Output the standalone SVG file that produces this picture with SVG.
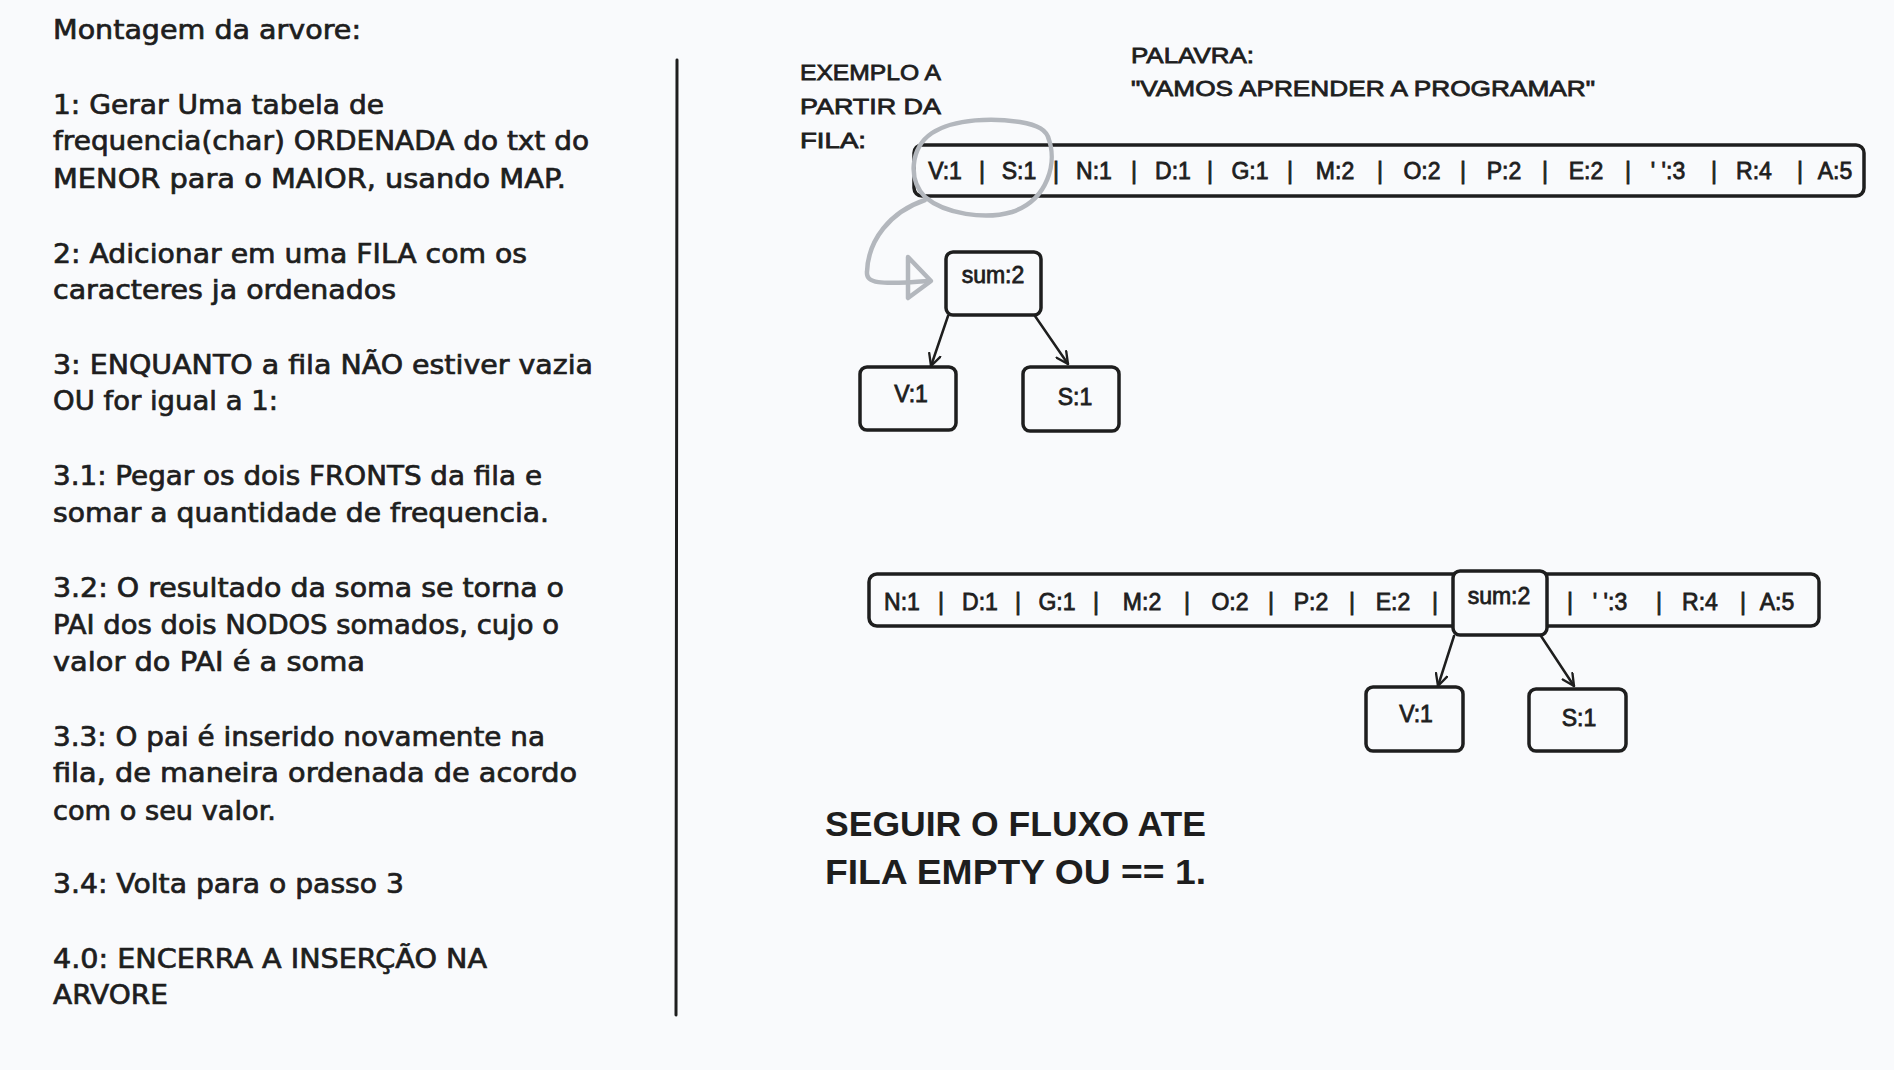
<svg xmlns="http://www.w3.org/2000/svg" width="1894" height="1070" viewBox="0 0 1894 1070">
<defs>
<style>
.bg{fill:#f9fafc}
.t{font-family:"DejaVu Sans","Liberation Sans",sans-serif;font-size:26px;fill:#1e1e1e;stroke:#1e1e1e;stroke-width:0.7}
.c{font-family:"Liberation Sans",Arial,sans-serif;font-size:22px;fill:#1e1e1e;stroke:#1e1e1e;stroke-width:0.8}
.q{font-family:"Liberation Sans",Arial,sans-serif;font-size:23px;fill:#1e1e1e;text-anchor:middle;stroke:#1e1e1e;stroke-width:0.8}
.big{font-family:"Liberation Sans",Arial,sans-serif;font-size:35px;font-weight:bold;fill:#1e1e1e}
.box{fill:none;stroke:#1e1e1e;stroke-width:3.5}
.edge{fill:none;stroke:#1e1e1e;stroke-width:2.5;stroke-linecap:round}
.hl{fill:none;stroke:#b3b7bd;stroke-width:4.5;stroke-linecap:round;stroke-linejoin:round}
</style>
<marker id="arr" viewBox="0 0 12 12" refX="11" refY="6" markerWidth="14" markerHeight="14" markerUnits="userSpaceOnUse" orient="auto">
<path d="M1,1 L11,6 L1,11" fill="none" stroke="#1e1e1e" stroke-width="2" stroke-linecap="round" stroke-linejoin="round"/>
</marker>
</defs>
<rect class="bg" x="0" y="0" width="1894" height="1070"/>

<g id="instructions">
<text class="t" x="53" y="39" textLength="308" lengthAdjust="spacingAndGlyphs">Montagem da arvore:</text>
<text class="t" x="53" y="114" textLength="331" lengthAdjust="spacingAndGlyphs">1: Gerar Uma tabela de</text>
<text class="t" x="53" y="150" textLength="536" lengthAdjust="spacingAndGlyphs">frequencia(char) ORDENADA do txt do</text>
<text class="t" x="53" y="188" textLength="513" lengthAdjust="spacingAndGlyphs">MENOR para o MAIOR, usando MAP.</text>
<text class="t" x="53" y="263" textLength="474" lengthAdjust="spacingAndGlyphs">2: Adicionar em uma FILA com os</text>
<text class="t" x="53" y="299" textLength="343" lengthAdjust="spacingAndGlyphs">caracteres ja ordenados</text>
<text class="t" x="53" y="374" textLength="540" lengthAdjust="spacingAndGlyphs">3: ENQUANTO a fila NÃO estiver vazia</text>
<text class="t" x="53" y="410" textLength="225" lengthAdjust="spacingAndGlyphs">OU for igual a 1:</text>
<text class="t" x="53" y="485" textLength="489" lengthAdjust="spacingAndGlyphs">3.1: Pegar os dois FRONTS da fila e</text>
<text class="t" x="53" y="522" textLength="496" lengthAdjust="spacingAndGlyphs">somar a quantidade de frequencia.</text>
<text class="t" x="53" y="597" textLength="511" lengthAdjust="spacingAndGlyphs">3.2: O resultado da soma se torna o</text>
<text class="t" x="53" y="634" textLength="506" lengthAdjust="spacingAndGlyphs">PAI dos dois NODOS somados, cujo o</text>
<text class="t" x="53" y="671" textLength="312" lengthAdjust="spacingAndGlyphs">valor do PAI é a soma</text>
<text class="t" x="53" y="746" textLength="492" lengthAdjust="spacingAndGlyphs">3.3: O pai é inserido novamente na</text>
<text class="t" x="53" y="782" textLength="524" lengthAdjust="spacingAndGlyphs">fila, de maneira ordenada de acordo</text>
<text class="t" x="53" y="820" textLength="223" lengthAdjust="spacingAndGlyphs">com o seu valor.</text>
<text class="t" x="53" y="893" textLength="351" lengthAdjust="spacingAndGlyphs">3.4: Volta para o passo 3</text>
<text class="t" x="53" y="968" textLength="434" lengthAdjust="spacingAndGlyphs">4.0: ENCERRA A INSERÇÃO NA</text>
<text class="t" x="53" y="1004" textLength="115" lengthAdjust="spacingAndGlyphs">ARVORE</text>
</g>

<g id="divider">
<line x1="677" y1="60" x2="676" y2="1015" stroke="#1e1e1e" stroke-width="3" stroke-linecap="round"/>
</g>

<g id="labels">
<text class="c" x="800" y="80" textLength="141" lengthAdjust="spacingAndGlyphs">EXEMPLO A</text>
<text class="c" x="800" y="114" textLength="141" lengthAdjust="spacingAndGlyphs">PARTIR DA</text>
<text class="c" x="800" y="148" textLength="66" lengthAdjust="spacingAndGlyphs">FILA:</text>
<text class="c" x="1131" y="63" textLength="123" lengthAdjust="spacingAndGlyphs">PALAVRA:</text>
<text class="c" x="1131" y="96" textLength="464" lengthAdjust="spacingAndGlyphs">"VAMOS APRENDER A PROGRAMAR"</text>
<text class="big" x="825" y="836" textLength="381" lengthAdjust="spacingAndGlyphs">SEGUIR O FLUXO ATE</text>
<text class="big" x="825" y="884" textLength="381" lengthAdjust="spacingAndGlyphs">FILA EMPTY OU == 1.</text>
</g>

<g id="fila1">
<rect class="box" x="914" y="145" width="950" height="51" rx="8"/>
<text class="q" x="945" y="179">V:1</text>
<text class="q" x="982" y="179">|</text>
<text class="q" x="1019" y="179">S:1</text>
<text class="q" x="1056" y="179">|</text>
<text class="q" x="1094" y="179">N:1</text>
<text class="q" x="1134" y="179">|</text>
<text class="q" x="1173" y="179">D:1</text>
<text class="q" x="1210" y="179">|</text>
<text class="q" x="1250" y="179">G:1</text>
<text class="q" x="1290" y="179">|</text>
<text class="q" x="1335" y="179">M:2</text>
<text class="q" x="1380" y="179">|</text>
<text class="q" x="1422" y="179">O:2</text>
<text class="q" x="1463" y="179">|</text>
<text class="q" x="1504" y="179">P:2</text>
<text class="q" x="1545" y="179">|</text>
<text class="q" x="1586" y="179">E:2</text>
<text class="q" x="1628" y="179">|</text>
<text class="q" x="1668" y="179">' ':3</text>
<text class="q" x="1714" y="179">|</text>
<text class="q" x="1754" y="179">R:4</text>
<text class="q" x="1800" y="179">|</text>
<text class="q" x="1835" y="179">A:5</text>
</g>

<g id="highlight">
<path class="hl" d="M1048,137 C1058,162 1048,200 1012,212 C985,220 945,214 925,197 C908,180 910,148 932,133 C955,118 995,118 1020,122 C1038,125 1047,130 1049,140"/>
<path class="hl" d="M925,200 C890,212 868,240 867,272 C866,283 878,285 928,281"/>
<path class="hl" d="M908,257 L931,281 L908,298 Z"/>
</g>

<g id="sum1">
<rect class="box" x="946" y="252" width="95" height="63" rx="7"/>
<text class="q" x="993" y="283">sum:2</text>
</g>
<g id="v1a">
<rect class="box" x="860" y="367" width="96" height="63" rx="7"/>
<text class="q" x="911" y="402">V:1</text>
</g>
<g id="s1a">
<rect class="box" x="1023" y="367" width="96" height="64" rx="7"/>
<text class="q" x="1075" y="405">S:1</text>
</g>

<g id="fila2">
<rect class="box" x="869" y="574" width="950" height="52" rx="8"/>
<text class="q" x="902" y="610">N:1</text>
<text class="q" x="941" y="610">|</text>
<text class="q" x="980" y="610">D:1</text>
<text class="q" x="1018" y="610">|</text>
<text class="q" x="1057" y="610">G:1</text>
<text class="q" x="1096" y="610">|</text>
<text class="q" x="1142" y="610">M:2</text>
<text class="q" x="1187" y="610">|</text>
<text class="q" x="1230" y="610">O:2</text>
<text class="q" x="1271" y="610">|</text>
<text class="q" x="1311" y="610">P:2</text>
<text class="q" x="1352" y="610">|</text>
<text class="q" x="1393" y="610">E:2</text>
<text class="q" x="1435" y="610">|</text>
<text class="q" x="1570" y="610">|</text>
<text class="q" x="1610" y="610">' ':3</text>
<text class="q" x="1659" y="610">|</text>
<text class="q" x="1700" y="610">R:4</text>
<text class="q" x="1743" y="610">|</text>
<text class="q" x="1777" y="610">A:5</text>
</g>
<g id="sum2">
<rect class="box" x="1453" y="571" width="94" height="64" rx="7" style="fill:#f9fafc"/>
<text class="q" x="1499" y="604">sum:2</text>
</g>
<g id="v1b">
<rect class="box" x="1366" y="687" width="97" height="64" rx="7"/>
<text class="q" x="1416" y="722">V:1</text>
</g>
<g id="s1b">
<rect class="box" x="1529" y="689" width="97" height="62" rx="7"/>
<text class="q" x="1579" y="726">S:1</text>
</g>

<g id="connectors">
<line class="edge" x1="948" y1="316" x2="931" y2="366" marker-end="url(#arr)"/>
<line class="edge" x1="1035" y1="316" x2="1068" y2="364" marker-end="url(#arr)"/>
<line class="edge" x1="1454" y1="636" x2="1438" y2="686" marker-end="url(#arr)"/>
<line class="edge" x1="1541" y1="636" x2="1574" y2="686" marker-end="url(#arr)"/>
</g>
</svg>
